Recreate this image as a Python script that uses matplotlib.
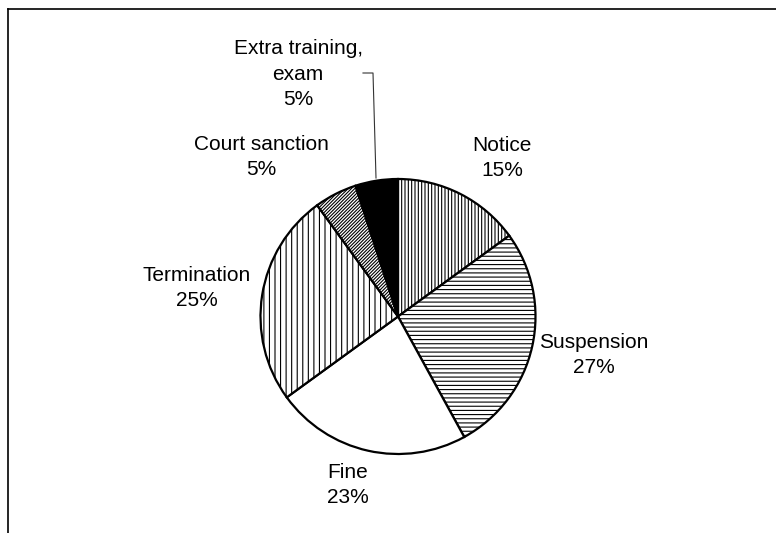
"""Pie chart of disciplinary measures (hatched, black & white)."""

import matplotlib
matplotlib.use('Agg')
import matplotlib.pyplot as plt
from matplotlib.lines import Line2D

categories = ['Notice', 'Suspension', 'Fine', 'Termination', 'Court sanction', 'Extra training,\nexam']
shares = [15, 27, 23, 25, 5, 5]

W, H = 776, 533
hatches = ['|||||', '----', None, '|||', '//////////', None]
faces = ['white', 'white', 'white', 'white', 'white', 'black']
# label block centres in pixel coords (x, y from top)
label_pos = [(502, 158), (594, 355), (348, 485), (197, 288), (261, 157), (298, 74)]

plt.rcParams['font.family'] = ['Liberation Sans', 'DejaVu Sans']
plt.rcParams['hatch.linewidth'] = 0.8

fig = plt.figure(figsize=(W / 100, H / 100), dpi=100)
ax = fig.add_axes([0, 0, 1, 1])

wedges, _ = ax.pie(shares, startangle=90, counterclock=False,
                   center=(398, H - 316.5), radius=137.5,
                   colors=faces, frame=True,
                   wedgeprops=dict(edgecolor='black', linewidth=1.6))
for w, h in zip(wedges, hatches):
    if h:
        w.set_hatch(h)

for name, val, (x, y) in zip(categories, shares, label_pos):
    ax.text(x, H - y, f'{name}\n{val}%', ha='center', va='center',
            fontsize=15, linespacing=1.45, color='black')

# leader line for the small black slice
ax.plot([363, 373, 376], [H - 73, H - 73, H - 178], color='#333333', lw=0.8)

ax.set_xlim(0, W)
ax.set_ylim(0, H)
ax.axis('off')

# outer frame (only top and left visible in the crop)
fig.add_artist(Line2D([8 / W, 1], [1 - 9 / H, 1 - 9 / H], color='black', lw=1.2))
fig.add_artist(Line2D([8 / W, 8 / W], [0, 1 - 9 / H], color='black', lw=1.2))

fig.savefig('out.png', dpi=100)
